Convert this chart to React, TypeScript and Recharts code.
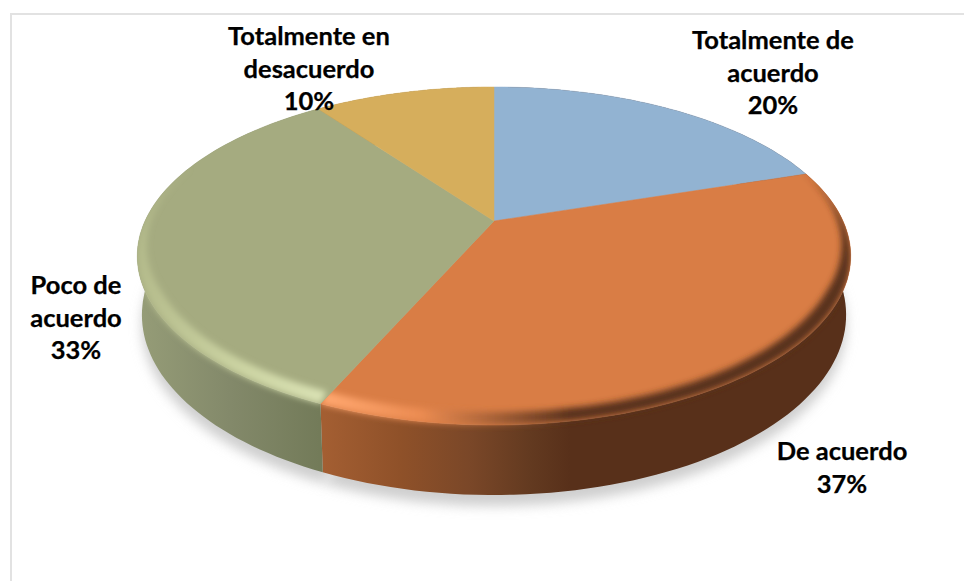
import { Pie, PieChart } from "recharts";

const categories: string[] = [
  "Totalmente de acuerdo",
  "De acuerdo",
  "Poco de acuerdo",
  "Totalmente en desacuerdo",
];
const shares: number[] = [20, 36.6, 33.4, 10];
const labelLines: string[][] = [
  ["Totalmente de", "acuerdo"],
  ["De acuerdo"],
  ["Poco de", "acuerdo"],
  ["Totalmente en", "desacuerdo"],
];

const faceColors = ["#92B3D2", "#D97D45", "#A5AB80", "#D6AE5C"];
const wallStops: [number, string][][] = [
  [[0, "#5A321C"], [1, "#5A321C"]],
  [[325, "#A35E32"], [400, "#8F5129"], [470, "#7A4728"], [530, "#633A20"], [570, "#58301A"], [850, "#58301A"]],
  [[140, "#959C77"], [230, "#83896A"], [325, "#727A58"]],
  [[0, "#8A7040"], [1, "#8A7040"]],
];
const rimStops: [number, string][][] = [
  [[0, "#92B3D2"], [1, "#92B3D2"]],
  [[325, "#FFA76F"], [420, "#EC8C52"], [480, "#B56A3C"], [570, "#5A321C"], [850, "#58301A"]],
  [[140, "#B5BC8C"], [250, "#CDD5A4"], [325, "#DAE2B4"]],
  [[0, "#D6AE5C"], [1, "#D6AE5C"]],
];
// where each label block sits: centre x, first baseline y
const labelAnchors = [
  { x: 773, y: 49 },
  { x: 842, y: 460 },
  { x: 76, y: 294 },
  { x: 309, y: 45 },
];

const data = categories.map((name, i) => ({
  name,
  value: shares[i],
  fill: faceColors[i],
  idx: i,
}));

const TILT = 0.4636;
const PERSP = 0.207;
// lower edge of the disc
const BOTTOM_TILT = 0.5003;
const BOTTOM_SCALE = 0.987;
const BOTTOM_DY = 56.7;
const STEPS = 80;

// projects a pie angle (degrees) onto the tilted disc
const project = (p: any, deg: number, scale = 1, dy = 0, tilt = TILT): [number, number] => {
  const a = (deg * Math.PI) / 180;
  const u = Math.cos(a);
  const v = -Math.sin(a);
  const d = 1 - PERSP * v;
  const r = p.outerRadius * scale;
  return [p.cx + (r * u) / d, p.cy + dy + (r * tilt * v) / d];
};

const arcPoints = (p: any, fn: (deg: number) => [number, number]) => {
  const pts: [number, number][] = [];
  for (let i = 0; i <= STEPS; i++) {
    pts.push(fn(p.startAngle + ((p.endAngle - p.startAngle) * i) / STEPS));
  }
  return pts;
};

const toPath = (pts: [number, number][]) =>
  "M" + pts.map((q) => `${q[0].toFixed(1)},${q[1].toFixed(1)}`).join("L") + "Z";

const rimWidth = (deg: number) => {
  const v = -Math.sin((deg * Math.PI) / 180);
  const t = Math.min(1, Math.max(0, (v + 0.35) / 0.8));
  return 12 * Math.pow(t, 0.8);
};

const ShadowShape = (p: any) => {
  const dy = BOTTOM_DY + 11;
  const pts = arcPoints(p, (deg) => project(p, deg, BOTTOM_SCALE, dy, BOTTOM_TILT));
  return <path d={toPath([[p.cx, p.cy + dy], ...pts])} fill="#cfcfcf" filter="url(#soft)" />;
};

const wallPath = (p: any) => {
  const top = arcPoints(p, (deg) => project(p, deg));
  const bottom = arcPoints(p, (deg) => project(p, deg, BOTTOM_SCALE, BOTTOM_DY, BOTTOM_TILT));
  return toPath([...top, ...bottom.reverse()]);
};

const WallShape = (p: any) => <path d={wallPath(p)} fill={`url(#wall${p.payload.idx})`} />;

const FaceShape = (p: any) => {
  const idx = p.payload.idx;
  const outer = arcPoints(p, (deg) => project(p, deg));
  const inner = arcPoints(p, (deg) => {
    const b = rimWidth(deg);
    return project(p, deg, 1 - b / p.outerRadius, -b * 0.5);
  });
  const facePath = toPath([[p.cx, p.cy], ...outer]);
  return (
    <g>
      <path d={facePath} fill={p.fill} stroke={p.fill} strokeWidth={0.5} />
      {(idx === 1 || idx === 2) && (
        <>
          <clipPath id={`edge${idx}`}>
            <path d={facePath} />
            <path d={wallPath(p)} />
          </clipPath>
          <g clipPath={`url(#edge${idx})`}>
            <path
              d={toPath([...outer, ...inner.reverse()])}
              fill={`url(#rim${idx})`}
              filter="url(#rimBlur)"
            />
          </g>
        </>
      )}
    </g>
  );
};

const renderLabel = (p: any) => {
  const idx = p.index;
  const anchor = labelAnchors[idx];
  const lines = [...labelLines[idx], `${Math.round(p.percent * 100)}%`];
  return (
    <text
      key={idx}
      x={anchor.x}
      y={anchor.y}
      textAnchor="middle"
      fontFamily="Lato"
      fontWeight={700}
      fontSize={25.5}
      stroke="#000"
      strokeWidth={0.25}
      fill="#000"
    >
      {lines.map((line, i) => (
        <tspan key={i} x={anchor.x} y={anchor.y + i * 32.5}>
          {line}
        </tspan>
      ))}
    </text>
  );
};

const gradient = (prefix: string) => (stops: [number, string][], i: number) => {
  const first = stops[0][0];
  const last = stops[stops.length - 1][0];
  return (
    <linearGradient
      key={i}
      id={`${prefix}${i}`}
      gradientUnits="userSpaceOnUse"
      x1={first}
      x2={last}
      y1={0}
      y2={0}
    >
      {stops.map((s, j) => (
        <stop key={j} offset={(s[0] - first) / (last - first)} stopColor={s[1]} />
      ))}
    </linearGradient>
  );
};

const pieProps = {
  data,
  dataKey: "value",
  nameKey: "name",
  cx: 494,
  cy: 221,
  innerRadius: 0,
  outerRadius: 349,
  startAngle: 90,
  endAngle: -270,
  stroke: "none",
  isAnimationActive: false,
};

export default function App() {
  return (
    <div style={{ position: "absolute", left: 0, top: 0, width: 964, height: 581, background: "#fff" }}>
      <div
        style={{
          position: "absolute",
          left: 10,
          top: 13,
          right: 0,
          bottom: 0,
          borderLeft: "2px solid #e2e2e2",
          borderTop: "2px solid #e2e2e2",
        }}
      />
      <div style={{ position: "absolute", left: 0, top: 0 }}>
        <PieChart width={964} height={581} margin={{ top: 0, right: 0, bottom: 0, left: 0 }}>
          <defs>
            <filter id="soft" x="-10%" y="-10%" width="120%" height="120%">
              <feGaussianBlur stdDeviation="6" />
            </filter>
            <filter id="rimBlur" x="-10%" y="-30%" width="120%" height="160%">
              <feGaussianBlur stdDeviation="3" />
            </filter>
            {wallStops.map(gradient("wall"))}
            {rimStops.map(gradient("rim"))}
          </defs>
          <Pie {...pieProps} shape={ShadowShape} />
          <Pie {...pieProps} shape={WallShape} />
          <Pie {...pieProps} shape={FaceShape} label={renderLabel} labelLine={false} />
        </PieChart>
      </div>
    </div>
  );
}
